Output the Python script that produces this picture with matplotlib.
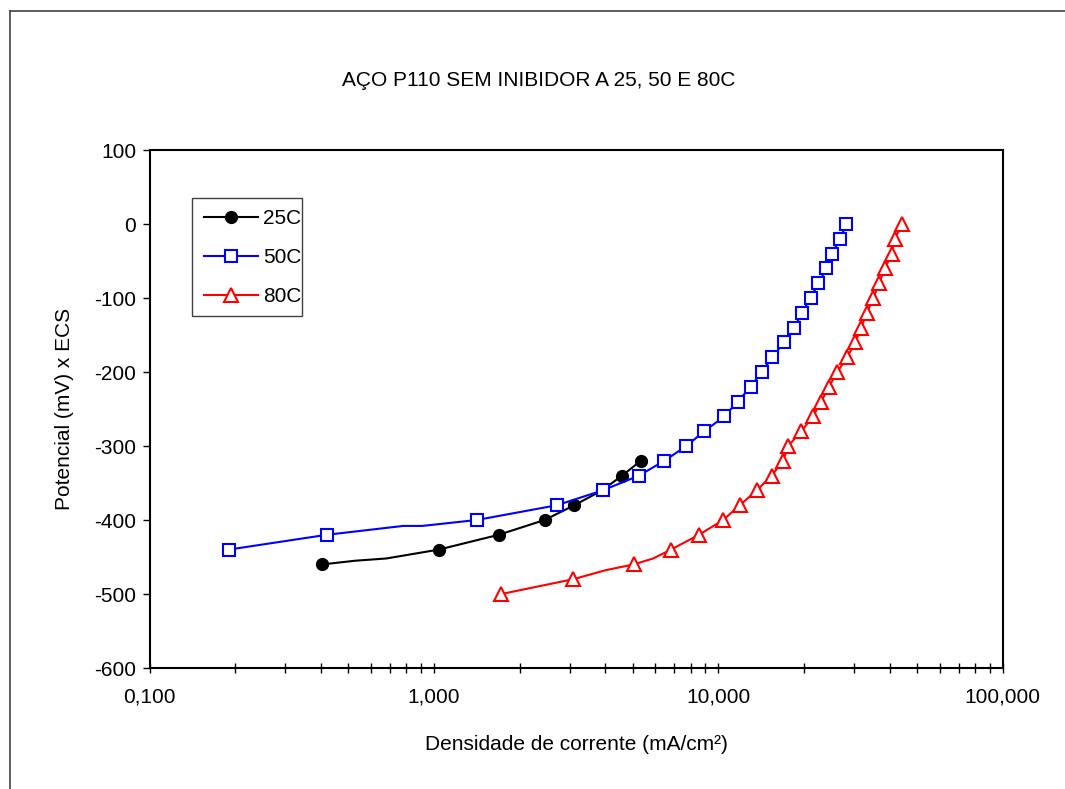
import matplotlib
matplotlib.use("Agg")
import matplotlib.pyplot as plt
from matplotlib.lines import Line2D
from matplotlib.patches import Rectangle
from matplotlib.ticker import LogLocator, FixedLocator, FuncFormatter, NullFormatter

plt.rcParams['font.family'] = ['Liberation Sans', 'DejaVu Sans']
plt.rcParams['axes.unicode_minus'] = False

# curvas de polarizacao, densidade de corrente (mA/cm2) x potencial (mV)
x_25 = [0.405, 0.53, 0.68, 1.04, 1.69, 2.45, 3.12, 3.9, 4.59, 5.34]
y_25 = [-460, -455, -452, -440, -420, -400, -380, -360, -340, -320]
mk_25 = [0, 3, 4, 5, 6, 7, 8, 9]

x_50 = [0.19, 0.42, 0.78, 0.91, 1.415, 2.71, 3.92, 5.26, 6.46, 7.72, 8.93,
        10.5, 11.7, 13.0, 14.2, 15.5, 17.0, 18.5, 19.7, 21.1, 22.5, 24.0,
        25.1, 26.8, 28.2]
y_50 = [-440, -420, -408, -408, -400, -380, -360, -340, -320, -300, -280,
        -260, -240, -220, -200, -180, -160, -140, -120, -100, -80, -60,
        -40, -20, 0]
mk_50 = [i for i in range(len(x_50)) if i not in (2, 3)]

x_80 = [1.728, 3.09, 4.0, 5.04, 5.9, 6.82, 8.55, 10.4, 11.9, 13.65, 15.4,
        16.9, 17.6, 19.6, 21.5, 23.0, 24.5, 26.2, 28.4, 30.3, 31.8, 33.3,
        35.1, 36.7, 38.6, 40.7, 41.8, 44.1]
y_80 = [-500, -480, -468, -460, -452, -440, -420, -400, -380, -360, -340,
        -320, -300, -280, -260, -240, -220, -200, -180, -160, -140, -120,
        -100, -80, -60, -40, -20, 0]
mk_80 = [i for i in range(len(x_80)) if i not in (2, 4)]

labels = ['25C', '50C', '80C']
xticks = [0.1, 1, 10, 100]
yticks = [-600, -500, -400, -300, -200, -100, 0, 100]

W, H = 1065, 789
fig = plt.figure(figsize=(W / 100, H / 100), dpi=100)
ax = fig.add_axes([149.5 / W, 1 - 668 / H, 853.2 / W, 518 / H])

# moldura externa do grafico
fig.add_artist(Line2D([10 / W, 1], [1 - 11 / H, 1 - 11 / H], color='#333333', lw=1.1))
fig.add_artist(Line2D([10 / W, 10 / W], [0, 1 - 11 / H], color='#333333', lw=1.1))

ax.plot(x_25, y_25, color='black', lw=1.5, marker='o', ms=8.5,
        mfc='black', mec='black', markevery=mk_25)
ax.plot(x_50, y_50, color='#0000FF', lw=1.5, marker='s', ms=8,
        mfc='white', mec='#0000FF', mew=1.5, markevery=mk_50)
ax.plot(x_80, y_80, color='#FF0000', lw=1.5, marker='^', ms=9.5,
        mfc='white', mec='#FF0000', mew=1.5, markevery=mk_80)

ax.set_xscale('log')
ax.set_xlim(0.1, 100)
ax.set_ylim(-600, 100)
ax.xaxis.set_major_locator(FixedLocator(xticks))
ax.xaxis.set_minor_locator(LogLocator(base=10, subs=range(2, 10)))
ax.xaxis.set_major_formatter(FuncFormatter(lambda v, p: f"{v:.3f}".replace('.', ',')))
ax.xaxis.set_minor_formatter(NullFormatter())
ax.set_yticks(yticks)

for s in ax.spines.values():
    s.set_linewidth(1.5)
ax.tick_params(axis='x', which='both', direction='inout', length=6.5, width=1,
               pad=11, labelsize=15)
ax.tick_params(axis='y', which='major', direction='out', length=5, width=1,
               pad=4.5, labelsize=15)

ax.set_xlabel('Densidade de corrente (mA/cm²)', fontsize=15)
ax.xaxis.set_label_coords(0.5, -0.13)
ax.set_ylabel('Potencial (mV) x ECS', fontsize=15)
ax.yaxis.set_label_coords(-0.0885, 0.5)

fig.text(539 / W, 1 - 81 / H, 'AÇO P110 SEM INIBIDOR A 25, 50 E 80C',
         ha='center', va='center', fontsize=15)

# legenda sem moldura propria; caixa desenhada a parte
handles = [
    Line2D([], [], color='black', lw=1.5, marker='o', ms=8.5, mfc='black', mec='black'),
    Line2D([], [], color='#0000FF', lw=1.5, marker='s', ms=8, mfc='white',
           mec='#0000FF', mew=1.5),
    Line2D([], [], color='#FF0000', lw=1.5, marker='^', ms=9.5, mfc='white',
           mec='#FF0000', mew=1.5),
]
ax.legend(handles, labels, loc='upper left', bbox_to_anchor=(0.0502, 0.9077),
          fontsize=15, frameon=False, borderpad=0.55, handlelength=2.6,
          handletextpad=0.25, labelspacing=0.95, borderaxespad=0)
fig.add_artist(Rectangle((192.3 / W, 1 - 315.5 / H), 109.3 / W, 117.7 / H,
                         transform=fig.transFigure, fill=False,
                         edgecolor='#404040', lw=1.0))

fig.savefig('out.png', dpi=100)
